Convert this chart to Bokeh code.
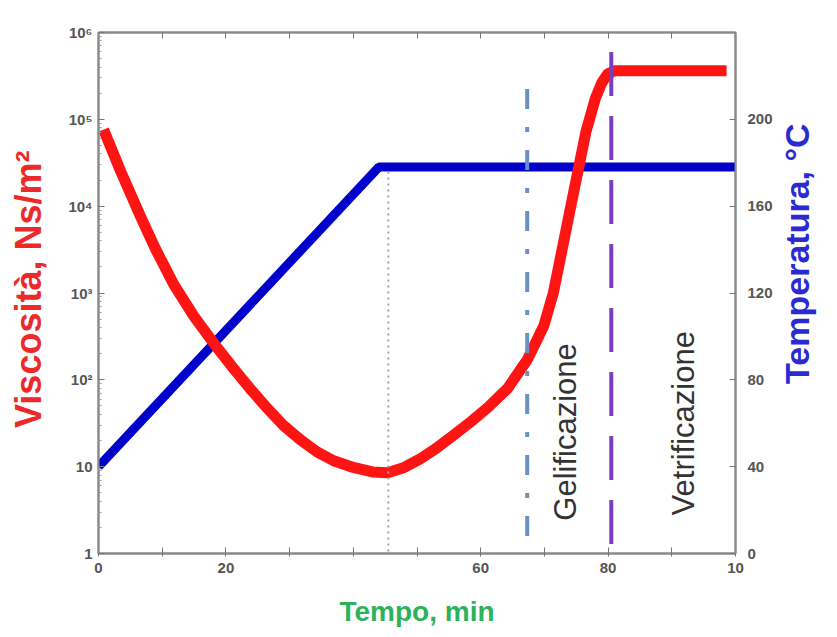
import math
from bokeh.plotting import figure
from bokeh.layouts import row
from bokeh.models import Range1d, LinearAxis, FixedTicker, LinearScale
from bokeh.core.properties import value
from bokeh.embed import file_html
from bokeh.resources import INLINE

# --- data ---
time_min = [0.8, 3.5, 6.6, 9.0, 11.8, 15.0, 18.1, 21.2, 24.0, 26.5, 29.0, 31.7, 34.3, 36.9,
            40.0, 43.0, 45.4, 48.0, 50.5, 53.0, 55.7, 58.5, 61.1, 64.2, 67.3, 69.9, 71.4,
            72.5, 73.6, 75.2, 76.5, 78.0, 79.0, 79.9, 81.0, 98.6]
viscosity = [76000, 25000, 7600, 3160, 1260, 537, 263, 135, 76, 47, 30, 20.4, 14.8, 11.7,
             9.8, 8.7, 8.5, 9.8, 12.3, 16.2, 22.9, 33.1, 47.9, 79.4, 170, 417, 1000,
             2510, 6310, 24000, 70800, 174000, 263000, 331000, 363000, 363000]

temp_time = [0, 44, 100]
temperature = [40, 178, 178]

visc_ticks = [1, 10, 100, 1000, 10000, 100000, 1000000]
visc_tick_labels = ["1", "10", "10²", "10³", "10⁴", "10⁵", "10⁶"]
temp_ticks = [0, 40, 80, 120, 160, 200]
time_ticks = [0, 10, 20, 30, 40, 50, 60, 70, 80, 90, 100]
time_tick_labels = ["0", "", "20", "", "", "", "60", "", "80", "", "10"]

tmax_time, tmax_top = 45.5, 176      # end of heating ramp (dotted)
gel_time, gel_top = 67.3, 214         # gelation (dash-dot)
vit_time, vit_top = 80.5, 231         # vitrification (dashed)

zone_labels = ["Gelificazione", "Vetrificazione"]
zone_x = [73.3, 91.8]
zone_y = [56, 60]

visc_title = "Viscosità, Ns/m²"
temp_title = "Temperatura, °C"
time_title = "Tempo, min"

H = 629
LEFT_W, MAIN_W, RIGHT_W = 52, 723, 54

# --- main figure ---
p = figure(width=MAIN_W, height=H, x_range=Range1d(0, 100), y_range=Range1d(1, 1e6),
           y_axis_type="log", output_backend="svg", toolbar_location=None,
           min_border_left=46, min_border_right=40, min_border_top=32, min_border_bottom=76)
p.extra_y_ranges = {"temp": Range1d(0, 240)}
p.extra_y_scales = {"temp": LinearScale()}
p.xgrid.visible = False
p.ygrid.visible = False
p.outline_line_color = "#8a8a8a"
p.outline_line_width = 2
p.background_fill_color = "white"
p.border_fill_color = "white"

tick_font = "Liberation Sans"
tick_color = "#555555"

def style_axis(ax):
    ax.axis_line_color = "#8a8a8a"
    ax.axis_line_width = 2
    ax.major_tick_line_color = "#777777"
    ax.minor_tick_line_color = "#999999"
    ax.major_tick_in = 6
    ax.major_tick_out = 0
    ax.minor_tick_in = 3
    ax.minor_tick_out = 0
    ax.major_label_text_font = tick_font
    ax.major_label_text_font_style = "bold"
    ax.major_label_text_font_size = "15px"
    ax.major_label_text_color = tick_color

# left (log) axis
yax = p.yaxis[0]
minor = [m * d for d in visc_ticks[:-1] for m in range(2, 10)]
yax.ticker = FixedTicker(ticks=visc_ticks, minor_ticks=minor)
yax.major_label_overrides = {t: l for t, l in zip(visc_ticks, visc_tick_labels)}
style_axis(yax)
yax.major_label_standoff = 6

# bottom axis
xax = p.xaxis[0]
xax.ticker = FixedTicker(ticks=time_ticks)
xax.major_label_overrides = {t: l for t, l in zip(time_ticks, time_tick_labels)}
style_axis(xax)
xax.major_tick_out = 3
xax.major_label_standoff = 6
xax.axis_label = time_title
xax.axis_label_text_font = "Liberation Sans"
xax.axis_label_text_font_style = "bold"
xax.axis_label_text_font_size = "28px"
xax.axis_label_text_color = "#2cb35a"
xax.axis_label_standoff = 20

# top axis (ticks only)
top = LinearAxis(ticker=FixedTicker(ticks=time_ticks),
                 major_label_overrides={t: "" for t in time_ticks})
style_axis(top)
top.major_label_standoff = 0
p.add_layout(top, "above")

# right axis (temperature)
rax = LinearAxis(y_range_name="temp", ticker=FixedTicker(ticks=temp_ticks))
style_axis(rax)
rax.major_label_standoff = 12
p.add_layout(rax, "right")

# --- data lines ---
p.line(temp_time, temperature, y_range_name="temp", line_color="#0000cd", line_width=9)
p.line(time_min, viscosity, line_color="#ff1414", line_width=11, line_join="round")

p.line([tmax_time, tmax_time], [tmax_top, 0], y_range_name="temp",
       line_color="#a0a0a0", line_width=2, line_dash="2 4")
p.line([gel_time, gel_time], [gel_top, 0], y_range_name="temp",
       line_color="#6b90c4", line_width=4, line_dash="20 18 5 18")
p.line([vit_time, vit_time], [vit_top, 0], y_range_name="temp",
       line_color="#7a3cc0", line_width=4, line_dash="44 20")

p.text(zone_x, zone_y, text=zone_labels, y_range_name="temp", angle=math.pi / 2,
       text_align="center", text_baseline="middle", text_font=value("Liberation Sans"),
       text_font_size="31px", text_color="#333333")

# --- side strips holding the vertical axis titles (read bottom to top) ---
def title_strip(w, tx, ty, text, size, color):
    f = figure(width=w, height=H, x_range=Range1d(0, w), y_range=Range1d(0, H),
               x_axis_location=None, y_axis_location=None, toolbar_location=None,
               output_backend="svg", min_border=0)
    f.outline_line_color = None
    f.grid.visible = False
    f.background_fill_color = "white"
    f.border_fill_color = "white"
    f.text([tx], [ty], text=[text], angle=math.pi / 2, text_align="center",
           text_baseline="middle", text_font=value("Liberation Sans"),
           text_font_style="bold", text_font_size=size, text_color=color)
    return f

left_strip = title_strip(LEFT_W, 28, H - 310, visc_title, "36px", "#ec2a2a")
right_strip = title_strip(RIGHT_W, 21, H - 267, temp_title, "34px", "#2a2ad2")

layout = row(left_strip, p, right_strip)
open("out.html", "w").write(file_html(layout, INLINE))
